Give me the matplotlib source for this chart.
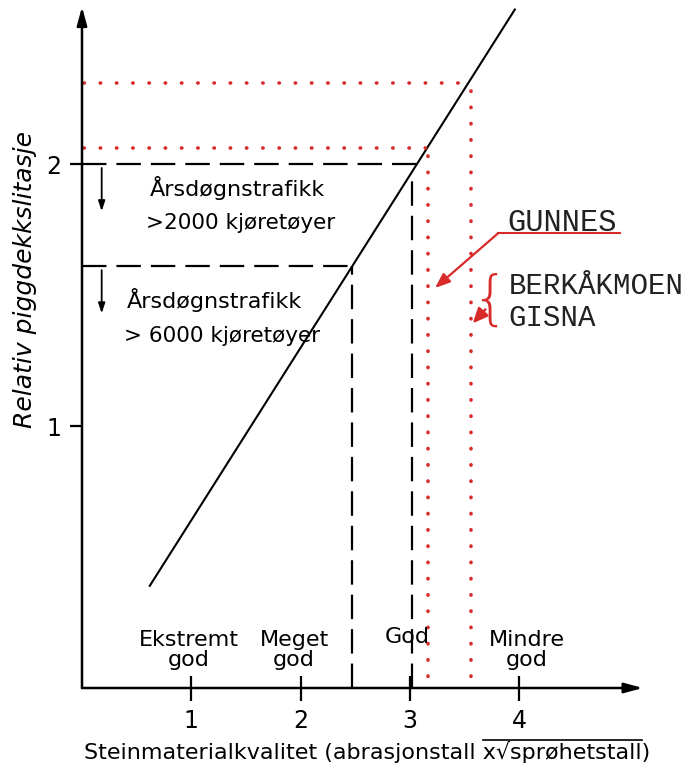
import matplotlib
matplotlib.use("Agg")
import matplotlib.pyplot as plt
from matplotlib.lines import Line2D

# ====== DATA ======
quality_ticks = [1, 2, 3, 4]
wear_ticks = [1, 2]
xlabel = "Steinmaterialkvalitet (abrasjonstall x√sprøhetstall)"
ylabel = "Relativ piggdekkslitasje"

# hovedlinje (relativ slitasje mot kvalitet)
line_x = [0.62, 3.96]
line_y = [0.39, 2.59]

# grenser for trafikk (svarte stiplede)
limit_y = [2.0, 1.61]
limit_hx = [3.09, 2.47]     # horisontal linje slutter her
limit_vx = [3.02, 2.47]     # vertikal linje
limit_vtop = [1.96, 1.61]
traffic_texts = [("Årsdøgnstrafikk", ">2000 kjøretøyer"),
                 ("Årsdøgnstrafikk", "> 6000 kjøretøyer")]

# steinbrudd (røde prikker)
quarry_y = [2.06, 2.31]
quarry_x = [3.17, 3.56]

categories = ["Ekstremt\ngod", "Meget\ngod", "God", "Mindre\ngod"]
category_x = [0.98, 1.94, 2.98, 4.07]
category_y = [0.145, 0.145, 0.195, 0.145]

RED = "#d92a2a"
SANS = ["DejaVu Sans"]
MONO = ["Liberation Mono", "DejaVu Sans Mono"]

fig = plt.figure(figsize=(7, 7.78), dpi=100)
ax = fig.add_axes([82 / 700, 90 / 778, 558 / 700, 673 / 778])
ax.set_xlim(0, 5.105)
ax.set_ylim(0, 2.569)
for s in ax.spines.values():
    s.set_visible(False)

# akser med piler
arrow_kw = dict(arrowstyle="-|>,head_length=1.1,head_width=0.3", lw=1.8,
                color="k", shrinkA=0, shrinkB=0)
ax.annotate("", xy=(5.13, 0), xytext=(0, 0), arrowprops=arrow_kw,
            annotation_clip=False)
ax.annotate("", xy=(0, 2.6), xytext=(0, 0), arrowprops=arrow_kw,
            annotation_clip=False)

ax.set_xticks(quality_ticks)
ax.set_xticklabels([str(t) for t in quality_ticks], family=SANS, fontsize=17)
ax.set_yticks(wear_ticks)
ax.set_yticklabels([str(t) for t in wear_ticks], family=SANS, fontsize=17)
ax.tick_params(axis="x", direction="inout", length=18, width=1.6, pad=6)
ax.tick_params(axis="y", direction="out", length=9, width=1.6, pad=6)

# hovedlinje
ax.plot(line_x, line_y, color="k", lw=1.5, clip_on=False)

# svarte stiplede grenser
dash = (0, (11, 4.5))
for y, hx, vx, vt in zip(limit_y, limit_hx, limit_vx, limit_vtop):
    ax.plot([0, hx], [y, y], color="k", lw=1.6, linestyle=dash)
    ax.plot([vx, vx], [0, vt], color="k", lw=1.6, linestyle=dash)

# røde prikker
dots = (0, (0.1, 4.4))
for y, x in zip(quarry_y, quarry_x):
    ax.plot([0.02, x], [y, y], color=RED, lw=2.6, linestyle=dots,
            dash_capstyle="round")
    ax.plot([x, x], [y - 0.03, 0.02], color=RED, lw=2.6, linestyle=dots,
            dash_capstyle="round")

# trafikktekster med piler
for (l1, l2), ytop, yt, xt in zip(traffic_texts, [1.985, 1.595],
                                  [1.91, 1.48], [0.62, 0.41]):
    ax.annotate("", xy=(0.18, ytop - 0.165), xytext=(0.18, ytop),
                arrowprops=dict(arrowstyle="-|>,head_length=0.6,head_width=0.2",
                                lw=1.3, color="k", shrinkA=0, shrinkB=0))
    ax.text(xt, yt, l1, family=SANS, fontsize=16, va="center", ha="left")
    ax.text(xt - 0.03, yt - 0.135, l2, family=SANS, fontsize=15.5,
            va="center", ha="left")

# kategorier
for lab, cx, cy in zip(categories, category_x, category_y):
    ax.text(cx, cy, lab, family=SANS, fontsize=16, ha="center",
            va="center", linespacing=0.95)

# stedsnavn
ax.text(3.89, 1.775, "GUNNES", family=MONO, fontsize=22, ha="left",
        va="center", color="#222222")
ax.plot([3.81, 4.92], [1.737, 1.737], color=RED, lw=1.5)
ax.annotate("", xy=(3.23, 1.527), xytext=(3.81, 1.737),
            arrowprops=dict(arrowstyle="-|>,head_length=0.9,head_width=0.35",
                            lw=1.6, color=RED, shrinkA=0, shrinkB=0))
ax.text(3.90, 1.535, "BERKÅKMOEN", family=MONO, fontsize=21, ha="left",
        va="center", color="#222222", clip_on=False)
ax.text(3.90, 1.412, "GISNA", family=MONO, fontsize=21, ha="left",
        va="center", color="#222222")
ax.text(3.90, 1.474, "{", family=SANS, fontsize=42, ha="right",
        va="center", color=RED, fontweight=200)
ax.annotate("", xy=(3.575, 1.392), xytext=(3.69, 1.445),
            arrowprops=dict(arrowstyle="-|>,head_length=0.9,head_width=0.4",
                            lw=1.8, color=RED, shrinkA=0, shrinkB=0))

# aksetitler
ax.text(-0.52, 1.56, ylabel, family=SANS, fontsize=18, style="italic",
        rotation=90, ha="center", va="center")
xl = fig.text(84 / 700, 1 - 752 / 778, xlabel, family=SANS, fontsize=16,
              ha="left", va="center")

# strek over x√sprøhetstall
fig.canvas.draw()
r = fig.canvas.get_renderer()
def width_of(s):
    t = fig.text(0, 0, s, family=SANS, fontsize=16)
    w = t.get_window_extent(r).width
    t.remove()
    return w
x0 = 84 + width_of("Steinmaterialkvalitet (abrasjonstall ")
x1 = 84 + width_of("Steinmaterialkvalitet (abrasjonstall x√sprøhetstall")
ytop = xl.get_window_extent(r).y1 + 1
fig.add_artist(Line2D([x0, x1], [ytop, ytop], color="k", lw=1.2,
                      transform=None))

fig.savefig("out.png", dpi=100, facecolor="white")
